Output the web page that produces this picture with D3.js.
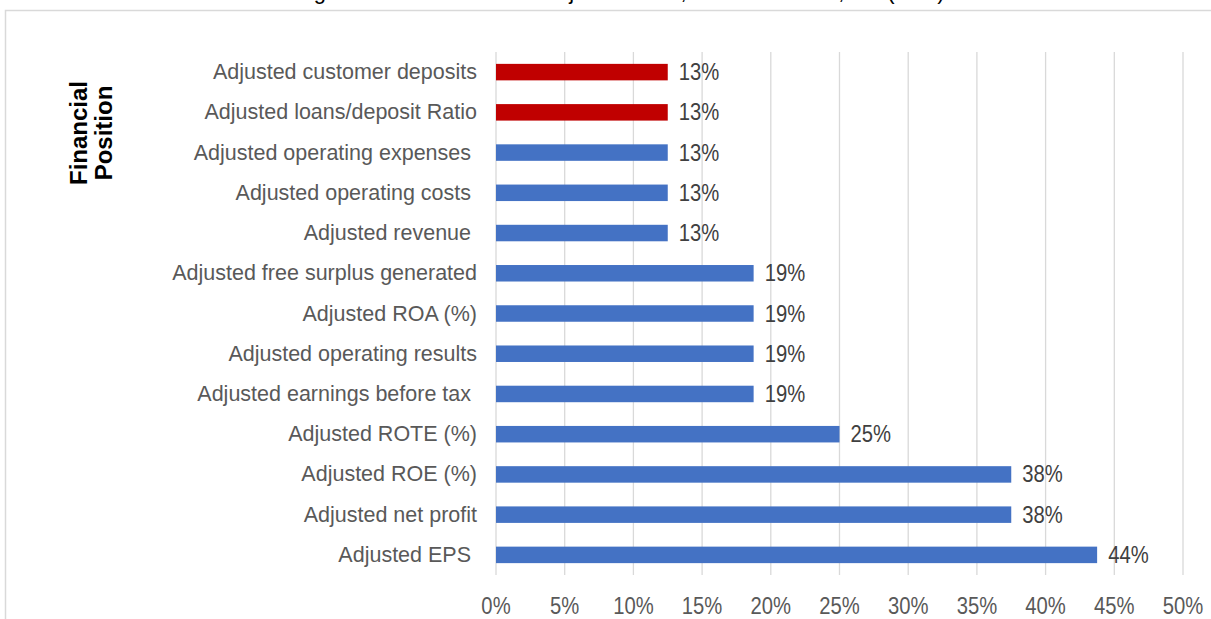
<!DOCTYPE html>
<html>
<head>
<meta charset="utf-8">
<script src="https://cdn.jsdelivr.net/npm/d3@7"></script>
<style>
  body { margin: 0; background: #fff; }
  svg { display: block; font-family: "Liberation Sans", Arial, sans-serif; }
</style>
</head>
<body>
<svg width="1211" height="619"></svg>
<script>
// categories top to bottom
var categories = [
  "Adjusted customer deposits",
  "Adjusted loans/deposit Ratio",
  "Adjusted operating expenses ",
  "Adjusted operating costs ",
  "Adjusted revenue ",
  "Adjusted free surplus generated",
  "Adjusted ROA (%)",
  "Adjusted operating results",
  "Adjusted earnings before tax ",
  "Adjusted ROTE (%)",
  "Adjusted ROE (%)",
  "Adjusted net profit",
  "Adjusted EPS "
];
var shares = [0.125, 0.125, 0.125, 0.125, 0.125, 0.1875, 0.1875, 0.1875, 0.1875, 0.25, 0.375, 0.375, 0.4375];
var highlighted = ["Adjusted customer deposits", "Adjusted loans/deposit Ratio"];
var xTicks = [0, 0.05, 0.1, 0.15, 0.2, 0.25, 0.3, 0.35, 0.4, 0.45, 0.5];

var data = categories.map(function(c, i) { return {name: c, value: shares[i]}; });

var svg = d3.select("svg");

// outer frame
svg.append("rect")
  .attr("x", 5.5).attr("y", 10.5)
  .attr("width", 1220).attr("height", 640)
  .attr("fill", "none")
  .attr("stroke", "#d9d9d9")
  .attr("stroke-width", 1.5);

// title, mostly cut off at the top of the picture
svg.append("text")
  .attr("x", 620).attr("y", -1)
  .attr("text-anchor", "middle")
  .style("font-size", "22px")
  .style("fill", "#000")
  .text("Figure 14: Most common adjusted KPIs, financial sector, EU (in %)");

var x = d3.scaleLinear().domain([0, 0.5]).range([496, 1183]);
var y = d3.scaleBand().domain(categories).range([52, 575])
  .paddingInner(0.59).paddingOuter(0.295);

// gridlines
svg.append("g")
  .selectAll("line")
  .data(xTicks)
  .enter().append("line")
  .attr("x1", function(d) { return x(d); })
  .attr("x2", function(d) { return x(d); })
  .attr("y1", 52).attr("y2", 575)
  .attr("stroke", "#d9d9d9")
  .attr("stroke-width", 1.3);

// x axis labels
svg.append("g")
  .selectAll("text")
  .data(xTicks)
  .enter().append("text")
  .attr("transform", function(d) { return "translate(" + x(d) + ",614) scale(0.88,1)"; })
  .attr("text-anchor", "middle")
  .style("font-size", "23px")
  .style("fill", "#595959")
  .text(d3.format(".0%"));

// bars
svg.append("g")
  .selectAll("rect")
  .data(data)
  .enter().append("rect")
  .attr("x", x(0))
  .attr("y", function(d) { return y(d.name); })
  .attr("width", function(d) { return x(d.value) - x(0); })
  .attr("height", y.bandwidth())
  .attr("fill", function(d) { return highlighted.indexOf(d.name) > -1 ? "#c00000" : "#4472c4"; });

// value labels
svg.append("g")
  .selectAll("text")
  .data(data)
  .enter().append("text")
  .attr("transform", function(d) {
    return "translate(" + (x(d.value) + 11) + "," + (y(d.name) + y.bandwidth() / 2 + 8) + ") scale(0.88,1)";
  })
  .style("font-size", "23px")
  .style("fill", "#404040")
  .text(function(d) { return d3.format(".0%")(d.value); });

// category labels
svg.append("g")
  .selectAll("text")
  .data(data)
  .enter().append("text")
  .attr("x", 477)
  .attr("y", function(d) { return y(d.name) + y.bandwidth() / 2 + 7; })
  .attr("text-anchor", "end")
  .attr("xml:space", "preserve")
  .style("white-space", "pre")
  .style("font-size", "21.5px")
  .style("fill", "#595959")
  .text(function(d) { return d.name; });

// side label
var side = svg.append("text")
  .attr("transform", "translate(87,133) rotate(-90)")
  .attr("text-anchor", "middle")
  .style("font-size", "24px")
  .style("font-weight", "bold")
  .style("fill", "#000");
side.append("tspan").attr("x", 0).attr("dy", 0).text("Financial");
side.append("tspan").attr("x", 0).attr("dy", 25).text("Position");
</script>
</body>
</html>
